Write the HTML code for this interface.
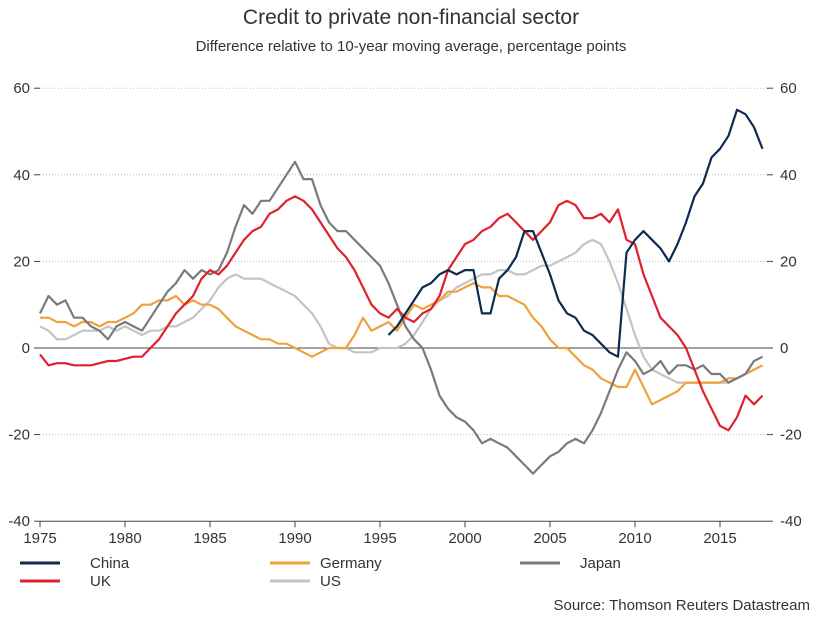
<!DOCTYPE html>
<html><head><meta charset="utf-8"><style>
body{margin:0;background:#fff;font-family:"Liberation Sans",sans-serif}
svg text{font-family:"Liberation Sans",sans-serif;fill:#333}
</style></head><body>
<svg id="c" width="821" height="614">
<text x="411" y="24" text-anchor="middle" font-size="21">Credit to private non-financial sector</text>
<text x="411" y="51" text-anchor="middle" font-size="15">Difference relative to 10-year moving average, percentage points</text>
<g id="grid"></g><g id="lines"></g>
<g id="legend" font-size="15">
<line x1="20" y1="563" x2="60" y2="563" stroke="#0d2b4e" stroke-width="3"/>
<text x="90" y="568">China</text>
<line x1="20" y1="581" x2="60" y2="581" stroke="#e0202e" stroke-width="3"/>
<text x="90" y="586">UK</text>
<line x1="270" y1="563" x2="310" y2="563" stroke="#f0a03c" stroke-width="3"/>
<text x="320" y="568">Germany</text>
<line x1="270" y1="581" x2="310" y2="581" stroke="#c4c4c4" stroke-width="3"/>
<text x="320" y="586">US</text>
<line x1="520" y1="563" x2="560" y2="563" stroke="#7a7a7a" stroke-width="3"/>
<text x="580" y="568">Japan</text>
</g>
<text x="810" y="610" text-anchor="end" font-size="15">Source: Thomson Reuters Datastream</text>
</svg>
<script>
const startYear=1975, step=0.5;
const yTicks=[60,40,20,0,-20,-40];
const xTicks=[1975,1980,1985,1990,1995,2000,2005,2010,2015];
const japan=[8,12,10,11,7,7,5,4,2,5, 6,5,4,7,10,13,15,18,16,18, 17,18,22,28,33,31,34,34,37,40, 43,39,39,33,29,27,27,25,23,21, 19,15,10,5,2,0,-5,-11,-14,-16, -17,-19,-22,-21,-22,-23,-25,-27,-29,-27, -25,-24,-22,-21,-22,-19,-15,-10,-5,-1, -3,-6,-5,-3,-6,-4,-4,-5,-4,-6, -6,-8,-7,-6,-3,-2];
const uk=[-1.5,-4,-3.5,-3.5,-4,-4,-4,-3.5,-3,-3,-2.5,-2,-2,0, 2,5,8,10,12,16,18,17,19,22,25,27,28,31,32,34,35,34,32,29,26,23,21,18,14,10,8,7,9,7,6,8,9,12,18,21,24,25,27,28,30,31,29,27,25,27,29,33,34,33,30,30,31,29,32,25,24,17,12,7,5,3,0,-5,-10,-14,-18,-19,-16,-11,-13,-11];
const germany=[7,7,6,6,5,6,6,5,6,6, 7,8,10,10,11,11,12,10,11,10, 10,9,7,5,4,3,2,2,1,1, 0,-1,-2,-1,0,0,0,3,7,4, 5,6,4,7,10,9,10,11,13,13, 14,15,14,14,12,12,11,10,7,5, 2,0,0,-2,-4,-5,-7,-8,-9,-9, -5,-9,-13,-12,-11,-10,-8,-8,-8,-8, -8,-7,-7,-6,-5,-4];
const us=[5,4,2,2,3,4,4,4,5,4, 5,4,3,4,4,5,5,6,7,9, 11,14,16,17,16,16,16,15,14,13, 12,10,8,5,1,0,0,-1,-1,-1, 0,0,0,1,3,6,9,11,12,14, 15,16,17,17,18,18,17,17,18,19, 19,20,21,22,24,25,24,20,15,9, 3,-2,-5,-6,-7,-8,-8,-8,-8,-8, -8,-8,-7,-6,-5,-4];
const chinaStart=1995.5;
const china=[3,5,8,11,14,15,17,18,17,18, 18,8,8,16,18,21,27,27,22,17, 11,8,7,4,3,1,-1,-2,22,25, 27,25,23,20,24,29,35,38,44,46, 49,55,54,51,46];
const NS='http://www.w3.org/2000/svg';
const X=yr=>40+(yr-1975)*17, Y=v=>348-v*4.33;
const grid=document.getElementById('grid'), lines=document.getElementById('lines');
function mk(t,a,p){const e=document.createElementNS(NS,t);for(const k in a)e.setAttribute(k,a[k]);p.appendChild(e);return e;}
yTicks.forEach(v=>{
  const y=Y(v);
  let l;
  if(v===0||v===-40) l=mk('line',{x1:40,x2:767,y1:y,y2:y,stroke:'#444','stroke-width':1},grid);
  else l=mk('line',{x1:40,x2:767,y1:y,y2:y,stroke:'#bbb','stroke-width':1,'stroke-dasharray':'1,2'},grid);
  
  
  const a=mk('line',{x1:34,x2:40,y1:y,y2:y,stroke:'#444'},grid);
  
  
  const b=mk('line',{x1:767,x2:773,y1:y,y2:y,stroke:'#444'},grid);
  
  
  const t=mk('text',{x:30,y:y+5,'text-anchor':'end','font-size':15},grid);t.textContent=v;
  
  
  const t2=mk('text',{x:780,y:y+5,'font-size':15},grid);t2.textContent=v;
  
  
});
xTicks.forEach(yr=>{
  const x=X(yr);
  const k=mk('line',{x1:x,x2:x,y1:Y(-40),y2:Y(-40)+6,stroke:'#444'},grid);
  
  
  const t=mk('text',{x:x,y:543,'text-anchor':'middle','font-size':15},grid);t.textContent=yr;
  
  
});
function draw(vals,start,color,name){
  const pts=vals.map((v,i)=>X(start+i*step).toFixed(1)+','+Y(v).toFixed(1)).join(' ');
  const p=mk('polyline',{points:pts,fill:'none',stroke:color,'stroke-width':2.2,'stroke-linejoin':'round'},lines);
  
  
}
draw(us,startYear,'#c4c4c4','line-us');
draw(germany,startYear,'#f0a03c','line-germany');
draw(japan,startYear,'#7a7a7a','line-japan');
draw(uk,startYear,'#e0202e','line-uk');
draw(china,chinaStart,'#0d2b4e','line-china');
</script>
</body></html>
